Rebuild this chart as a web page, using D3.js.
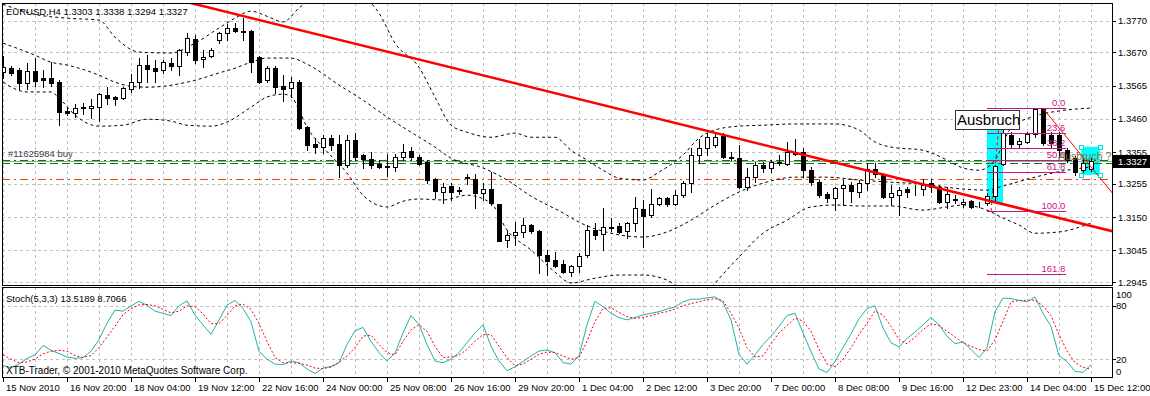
<!DOCTYPE html>
<html>
<head>
<meta charset="utf-8">
<script src="https://cdn.jsdelivr.net/npm/d3@7"></script>
<style>
body { margin: 0; background: #fff; }
svg text { font-family: "Liberation Sans", Arial, sans-serif; font-size: 9.5px; }
</style>
</head>
<body>
<svg id="chart" width="1150" height="396"></svg>
<script>
// ---- data ----
var symbol = "EURUSD,H4";
// [open, high, low, close] per H4 bar
var bars = [
[1.3608,1.3658,1.3589,1.3623],[1.3620,1.3627,1.3598,1.3605],[1.3614,1.3620,1.3554,1.3573],[1.3573,1.3636,1.3554,1.3611],
[1.3611,1.3652,1.3563,1.3579],[1.3589,1.3614,1.3560,1.3582],[1.3589,1.3639,1.3563,1.3573],[1.3576,1.3582,1.3440,1.3481],
[1.3485,1.3497,1.3472,1.3478],[1.3478,1.3507,1.3466,1.3494],[1.3494,1.3510,1.3475,1.3497],[1.3494,1.3522,1.3462,1.3500],
[1.3497,1.3541,1.3453,1.3538],[1.3535,1.3560,1.3507,1.3526],[1.3529,1.3532,1.3504,1.3522],[1.3526,1.3560,1.3522,1.3557],
[1.3554,1.3601,1.3545,1.3576],[1.3576,1.3652,1.3557,1.3630],[1.3630,1.3661,1.3576,1.3617],[1.3620,1.3646,1.3576,1.3611],
[1.3614,1.3646,1.3605,1.3639],[1.3636,1.3652,1.3614,1.3627],[1.3627,1.3680,1.3598,1.3677],[1.3671,1.3731,1.3661,1.3715],
[1.3712,1.3725,1.3636,1.3646],[1.3649,1.3677,1.3623,1.3655],[1.3658,1.3683,1.3655,1.3677],[1.3709,1.3734,1.3699,1.3731],
[1.3731,1.3759,1.3709,1.3747],[1.3747,1.3762,1.3734,1.3737],[1.3737,1.3778,1.3709,1.3734],[1.3737,1.3740,1.3608,1.3639],
[1.3655,1.3658,1.3573,1.3576],[1.3582,1.3627,1.3576,1.3620],[1.3620,1.3627,1.3541,1.3560],[1.3563,1.3598,1.3516,1.3554],
[1.3557,1.3592,1.3529,1.3576],[1.3576,1.3582,1.3428,1.3431],[1.3434,1.3437,1.3361,1.3377],[1.3380,1.3399,1.3352,1.3371],
[1.3371,1.3409,1.3352,1.3399],[1.3399,1.3409,1.3361,1.3377],[1.3380,1.3409,1.3276,1.3314],[1.3314,1.3409,1.3308,1.3393],
[1.3393,1.3415,1.3330,1.3339],[1.3346,1.3349,1.3305,1.3333],[1.3333,1.3355,1.3305,1.3314],[1.3317,1.3330,1.3305,1.3308],
[1.3311,1.3349,1.3279,1.3308],[1.3308,1.3349,1.3295,1.3339],[1.3339,1.3380,1.3330,1.3355],[1.3358,1.3371,1.3330,1.3339],
[1.3339,1.3346,1.3314,1.3317],[1.3324,1.3330,1.3257,1.3267],[1.3270,1.3273,1.3210,1.3232],[1.3229,1.3257,1.3194,1.3245],
[1.3248,1.3257,1.3204,1.3229],[1.3235,1.3245,1.3223,1.3232],[1.3273,1.3286,1.3254,1.3276],[1.3270,1.3286,1.3178,1.3226],
[1.3226,1.3257,1.3204,1.3238],[1.3238,1.3292,1.3188,1.3194],[1.3191,1.3191,1.3074,1.3074],[1.3077,1.3109,1.3055,1.3093],
[1.3093,1.3134,1.3062,1.3103],[1.3103,1.3147,1.3087,1.3125],[1.3125,1.3128,1.3099,1.3106],[1.3106,1.3109,1.2973,1.3030],
[1.3030,1.3046,1.2967,1.3011],[1.3014,1.3039,1.2992,1.2995],[1.3002,1.3014,1.2973,1.2976],[1.2976,1.2998,1.2964,1.2995],
[1.2995,1.3036,1.2976,1.3027],[1.3030,1.3125,1.3024,1.3109],[1.3109,1.3131,1.3080,1.3093],[1.3096,1.3178,1.3046,1.3118],
[1.3115,1.3147,1.3106,1.3118],[1.3122,1.3131,1.3099,1.3103],[1.3106,1.3134,1.3084,1.3131],[1.3131,1.3213,1.3106,1.3178],
[1.3175,1.3204,1.3055,1.3153],[1.3156,1.3238,1.3150,1.3191],[1.3191,1.3213,1.3188,1.3210],[1.3210,1.3213,1.3185,1.3191],
[1.3191,1.3235,1.3188,1.3219],[1.3219,1.3264,1.3213,1.3257],[1.3257,1.3368,1.3229,1.3346],[1.3346,1.3396,1.3320,1.3368],
[1.3368,1.3415,1.3346,1.3402],[1.3377,1.3415,1.3371,1.3402],[1.3406,1.3415,1.3336,1.3339],[1.3339,1.3355,1.3330,1.3336],
[1.3336,1.3377,1.3242,1.3245],[1.3245,1.3305,1.3235,1.3276],[1.3276,1.3324,1.3260,1.3314],[1.3314,1.3324,1.3292,1.3305],
[1.3305,1.3330,1.3292,1.3324],[1.3320,1.3346,1.3314,1.3324],[1.3317,1.3387,1.3314,1.3355],[1.3355,1.3396,1.3346,1.3349],
[1.3355,1.3368,1.3276,1.3298],[1.3298,1.3308,1.3251,1.3260],[1.3260,1.3267,1.3213,1.3219],[1.3223,1.3229,1.3197,1.3210],
[1.3210,1.3245,1.3172,1.3241],[1.3241,1.3267,1.3188,1.3251],[1.3251,1.3260,1.3197,1.3232],[1.3229,1.3267,1.3213,1.3257],
[1.3257,1.3320,1.3235,1.3301],[1.3301,1.3320,1.3276,1.3286],[1.3286,1.3289,1.3210,1.3213],[1.3213,1.3251,1.3188,1.3226],
[1.3219,1.3245,1.3156,1.3235],[1.3238,1.3245,1.3213,1.3229],[1.3235,1.3251,1.3219,1.3234],[1.3238,1.3270,1.3219,1.3251],
[1.3257,1.3270,1.3229,1.3245],[1.3245,1.3251,1.3194,1.3197],[1.3197,1.3245,1.3178,1.3223],[1.3207,1.3219,1.3194,1.3204],
[1.3191,1.3207,1.3182,1.3197],[1.3200,1.3204,1.3178,1.3182],[1.3191,1.3197,1.3182,1.3190],[1.3194,1.3226,1.3188,1.3216],
[1.3216,1.3314,1.3204,1.3311],[1.3317,1.3431,1.3314,1.3415],[1.3409,1.3418,1.3368,1.3380],[1.3380,1.3399,1.3371,1.3390],
[1.3387,1.3418,1.3384,1.3412],[1.3412,1.3494,1.3402,1.3491],[1.3491,1.3494,1.3377,1.3384],[1.3409,1.3418,1.3368,1.3384],
[1.3409,1.3418,1.3339,1.3361],[1.3361,1.3368,1.3324,1.3330],[1.3336,1.3342,1.3283,1.3292],[1.3298,1.3336,1.3283,1.3320],
[1.3303,1.3338,1.3294,1.3327]
];

// Bollinger bands, sampled [bar, price]
var bandUpper = [[0,1.3822],[4,1.3790],[8,1.3778],[12,1.3772],[14,1.3718],[17,1.3671],[21,1.3668],[24,1.3699],[27,1.3747],
[29,1.3778],[31,1.3800],[33,1.3784],[35,1.3766],[37,1.3810],[39,1.3851],[42,1.3898],[45,1.3851],[47,1.3794],[49,1.3699],
[52,1.3623],[54,1.3529],[56,1.3440],[58,1.3418],[61,1.3402],[64,1.3415],[66,1.3402],[69,1.3402],[71,1.3361],[73,1.3330],
[75,1.3298],[77,1.3273],[80,1.3267],[82,1.3292],[85,1.3346],[87,1.3399],[89,1.3425],[92,1.3437],[95,1.3440],[99,1.3444],
[104,1.3444],[107,1.3425],[109,1.3387],[111,1.3371],[115,1.3361],[118,1.3330],[120,1.3305],[122,1.3298],[124,1.3330],
[126,1.3431],[129,1.3469],[132,1.3485],[136,1.3494]];
var bandMiddle = [[0,1.3699],[4,1.3661],[6,1.3639],[8,1.3630],[12,1.3598],[14,1.3576],[16,1.3563],[18,1.3560],[20,1.3563],
[24,1.3582],[27,1.3605],[29,1.3620],[31,1.3639],[33,1.3652],[36,1.3652],[38,1.3633],[42,1.3567],[45,1.3519],[48,1.3466],
[51,1.3418],[54,1.3371],[56,1.3336],[60,1.3305],[63,1.3267],[66,1.3216],[70,1.3163],[72,1.3134],[76,1.3099],[80,1.3087],
[83,1.3103],[86,1.3140],[89,1.3188],[92,1.3229],[95,1.3257],[99,1.3276],[103,1.3276],[107,1.3267],[111,1.3260],[115,1.3254],
[119,1.3241],[123,1.3235],[125,1.3248],[129,1.3276],[133,1.3298],[136,1.3308]];
var bandLower = [[0,1.3576],[3,1.3545],[6,1.3545],[7,1.3526],[9,1.3472],[12,1.3437],[15,1.3440],[18,1.3459],[21,1.3453],
[23,1.3440],[26,1.3437],[28,1.3450],[31,1.3497],[33,1.3529],[35,1.3538],[36,1.3532],[37,1.3488],[38,1.3434],[40,1.3371],
[43,1.3289],[45,1.3219],[48,1.3182],[50,1.3200],[52,1.3207],[55,1.3204],[58,1.3219],[61,1.3194],[63,1.3109],[66,1.3046],
[69,1.2976],[71,1.2942],[74,1.2957],[77,1.2967],[80,1.2967],[83,1.2951],[85,1.2919],[87,1.2888],[89,1.2942],[92,1.3024],
[95,1.3099],[98,1.3140],[101,1.3182],[104,1.3188],[107,1.3185],[111,1.3185],[115,1.3172],[118,1.3182],[120,1.3188],
[123,1.3172],[125,1.3147],[127,1.3125],[129,1.3099],[132,1.3103],[136,1.3131]];

// Stochastic (5,3,3)
var stochK = [13,10,14.5,21,24.7,35.5,30,26.5,22.5,21,21.7,29,42,60.5,75.2,74,80,85,80.7,74,71.5,69,80,85.5,69.6,58.5,48,64,
80.7,86,77,62,29,20,14.5,13.8,18,16,
9,4,10,12,16,36.5,52,55.7,40,27.4,18,27,49.5,69,59,36.5,18,16,20,27.4,38.5,49.5,58.7,34.5,18,7,11.5,17.4,23.7,29.2,30.3,27.4,
16.3,14.5,23.7,58.7,85.2,78.9,71.6,66.8,64.2,66.8,69.7,71.6,73.4,76.3,78.9,84.4,87.4,87.4,89,
90,83.7,64.2,25.5,14.5,24.8,36.5,45.8,56.9,69,71.6,49.5,28.5,9,5,17.4,33,48.6,65.4,77,80,55,38.5,33.7,43.3,50.5,58.7,66.8,
58.7,45.8,37.3,39.5,31,21.8,33,73.4,88.8,88,86.3,84.4,90,71.6,56.9,23.7,17.4,6.3,5.2,13.5189];
var stochD = [24.8,20,16,17,20,26,29,30,29,24,22,24,33,45,57,70,77,81,81.5,80,76,72,74,80,79,71,60,60,69,80,82,76,60,40,22,16,16,15.4,
13.5,10,9.5,11,16.3,23.7,33,46,47,36.5,27.4,24.8,40,53,58.7,51.3,34.6,21.8,22.5,24.4,31,40.2,47.6,47.6,34.6,21.8,12.6,14.5,20,
25.5,28.1,27.4,23.7,20,21.8,40.2,62.3,77,77.8,72.6,67.8,66,66.7,69,71.6,73.4,76.3,80,82.6,84.4,87,
88,85.9,71.6,55,33,22.5,23.7,37.3,49.5,57.9,66,63,51.3,31,14.5,11.5,20,33,47.6,60.5,74,69.7,56.9,42.1,37.3,44.7,53.2,59.8,
57.9,51.3,45,38.5,34.5,30.7,29.2,42,62.3,84.4,85.9,86.3,86.3,80,69,47.6,29.2,16.3,10.8,8.7066];

var priceTicks = [1.3770, 1.3670, 1.3565, 1.3460, 1.3355, 1.3255, 1.3150, 1.3045, 1.2945];
var stochTicks = [100, 80, 20, 0];
var stochLevels = [80, 20];
var timeLabels = ["15 Nov 2010", "16 Nov 20:00", "18 Nov 04:00", "19 Nov 12:00", "22 Nov 16:00", "24 Nov 00:00",
  "25 Nov 08:00", "26 Nov 16:00", "29 Nov 20:00", "1 Dec 04:00", "2 Dec 12:00", "3 Dec 20:00", "7 Dec 00:00",
  "8 Dec 08:00", "9 Dec 16:00", "12 Dec 23:00", "14 Dec 04:00", "15 Dec 12:00"];
var timeTickBars = [0, 8, 16, 24, 32, 40, 48, 56, 64, 72, 80, 88, 96, 104, 112, 120, 128, 136];

var fibLevels = [0, 23.6, 38.2, 50, 61.8, 100, 161.8];
var fibPrices = [1.3169, 1.3493];      // 100 level, 0 level
var fibBars = [123, 132.9];
var fibAnchor = [[123.5, 1.3169], [124.7, 1.3493]];
var trendMain = [[30, 1.3785], [124, 1.3197]];
var trendShort = [[130, 1.3493], [135, 1.3339]];
var orderPrices = [1.3330, 1.3320];
var stopPrice = 1.3269;
var bidPrice = 1.3327;
var boxBreakout = [[123, 1.3428], [125, 1.3194]];
var boxQuestion = [[134.8, 1.3372], [137.1, 1.3283]];
var orderLabel = "#11625984 buy";

// ---- layout ----
var svg = d3.select("#chart");
var W = 1150, H = 396;
var left = 2, right = 1112, mainTop = 3, mainBottom = 285, subTop = 287, subBottom = 377;

var x = d3.scaleLinear().domain([0, 1]).range([3, 11]);
var y = d3.scaleLinear().domain([1.2945, 1.3770]).range([282, 20.7]);
var ys = d3.scaleLinear().domain([0, 100]).range([377, 288]);
var px = function(v) { return Math.round(v) + 0.5; };

svg.append("rect").attr("width", W).attr("height", H).attr("fill", "#fff");

var defs = svg.append("defs");
defs.append("clipPath").attr("id", "clipMain").append("rect")
  .attr("x", left + 1).attr("y", mainTop + 1).attr("width", right - left - 1).attr("height", mainBottom - mainTop - 1);
defs.append("clipPath").attr("id", "clipSub").append("rect")
  .attr("x", left + 1).attr("y", subTop + 1).attr("width", right - left - 1).attr("height", subBottom - subTop - 1);

var main = svg.append("g").attr("clip-path", "url(#clipMain)");
var sub = svg.append("g").attr("clip-path", "url(#clipSub)");

// grid
var gridBars = d3.range(0, 140, 4);
main.selectAll(".vg").data(gridBars).join("line")
  .attr("x1", d => px(x(d))).attr("x2", d => px(x(d)))
  .attr("y1", mainTop).attr("y2", mainBottom)
  .attr("stroke", "#c0c0c0").attr("stroke-dasharray", "3,3");
main.selectAll(".hg").data(priceTicks).join("line")
  .attr("x1", left).attr("x2", right)
  .attr("y1", d => px(y(d))).attr("y2", d => px(y(d)))
  .attr("stroke", "#c0c0c0").attr("stroke-dasharray", "3,3");
sub.selectAll(".vg").data(gridBars).join("line")
  .attr("x1", d => px(x(d))).attr("x2", d => px(x(d)))
  .attr("y1", subTop).attr("y2", subBottom)
  .attr("stroke", "#c0c0c0").attr("stroke-dasharray", "3,3");
sub.selectAll(".hg").data(stochLevels).join("line")
  .attr("x1", left).attr("x2", right)
  .attr("y1", d => px(ys(d))).attr("y2", d => px(ys(d)))
  .attr("stroke", "#c0c0c0").attr("stroke-dasharray", "3,3");

// rectangles (background objects)
[boxBreakout, boxQuestion].forEach(function(b) {
  main.append("rect")
    .attr("x", x(b[0][0])).attr("y", y(b[0][1]))
    .attr("width", x(b[1][0]) - x(b[0][0])).attr("height", y(b[1][1]) - y(b[0][1]))
    .attr("fill", "#00ffff");
});

// order / stop / bid lines
main.append("line").attr("x1", left).attr("x2", right)
  .attr("y1", px(y(orderPrices[0]))).attr("y2", px(y(orderPrices[0])))
  .attr("stroke", "#008000").attr("stroke-dasharray", "8,4,2,4");
main.append("line").attr("x1", left).attr("x2", right)
  .attr("y1", px(y(bidPrice))).attr("y2", px(y(bidPrice)))
  .attr("stroke", "#a0a0a0");
main.append("line").attr("x1", left).attr("x2", right)
  .attr("y1", px(y(orderPrices[1]))).attr("y2", px(y(orderPrices[1])))
  .attr("stroke", "#008000").attr("stroke-dasharray", "8,4");
main.append("line").attr("x1", left).attr("x2", right)
  .attr("y1", px(y(stopPrice))).attr("y2", px(y(stopPrice)))
  .attr("stroke", "#ff4000").attr("stroke-dasharray", "8,4,2,4");

// bollinger bands
var bandLine = d3.line().x(d => x(d[0])).y(d => y(d[1])).curve(d3.curveMonotoneX);
[bandUpper, bandMiddle, bandLower].forEach(function(b) {
  main.append("path").attr("d", bandLine(b))
    .attr("fill", "none").attr("stroke", "#000").attr("stroke-width", 1).attr("stroke-dasharray", "3,3");
});

// fib anchor line (behind candles)
var seg = d3.line().x(d => x(d[0])).y(d => y(d[1]));
main.append("path").attr("d", seg(fibAnchor))
  .attr("fill", "none").attr("stroke", "#ff0000").attr("stroke-dasharray", "3,3");

// candles
var candle = main.selectAll(".candle").data(bars).join("g");
candle.append("line")
  .attr("x1", (d, i) => px(x(i))).attr("x2", (d, i) => px(x(i)))
  .attr("y1", d => Math.round(y(d[1]))).attr("y2", d => Math.round(y(d[2])) + 1)
  .attr("stroke", "#000");
candle.append("rect")
  .attr("x", (d, i) => Math.round(x(i)) - 2 + 0.5)
  .attr("y", d => Math.round(y(Math.max(d[0], d[3]))) + 0.5)
  .attr("width", 4)
  .attr("height", d => Math.max(0, Math.round(y(Math.min(d[0], d[3]))) - Math.round(y(Math.max(d[0], d[3])))))
  .attr("fill", d => d[3] >= d[0] ? "#fff" : "#000")
  .attr("stroke", "#000");

// trend lines (rays to the right)
function ray(t, xEnd) {
  var slope = (t[1][1] - t[0][1]) / (t[1][0] - t[0][0]);
  var x0 = -10, x1 = xEnd;
  return [[x0, t[0][1] + slope * (x0 - t[0][0])], [x1, t[0][1] + slope * (x1 - t[0][0])]];
}
main.append("path").attr("d", seg(ray(trendMain, 140)))
  .attr("fill", "none").attr("stroke", "#ff0000").attr("stroke-width", 2.5);
var rs = ray(trendShort, 140); rs[0] = trendShort[0];
main.append("path").attr("d", seg(rs))
  .attr("fill", "none").attr("stroke", "#ff0000").attr("stroke-width", 1);

// fibonacci
var fibCol = "#c71585";
var fibY = d => y(fibPrices[1] - (fibPrices[1] - fibPrices[0]) * d / 100);
main.selectAll(".fib").data(fibLevels).join("line")
  .attr("x1", x(fibBars[0])).attr("x2", x(fibBars[1]))
  .attr("y1", d => px(fibY(d))).attr("y2", d => px(fibY(d)))
  .attr("stroke", fibCol);
main.selectAll(".fibt").data(fibLevels).join("text")
  .attr("x", x(fibBars[1]) - 1).attr("y", d => Math.round(fibY(d)) - 2)
  .attr("text-anchor", "end").attr("fill", fibCol).text(d => d.toFixed(1));

// handles of the selected box
var hb = [[boxQuestion[0][0], boxQuestion[0][1]], [boxQuestion[1][0], boxQuestion[0][1]],
          [boxQuestion[0][0], boxQuestion[1][1]], [boxQuestion[1][0], boxQuestion[1][1]]];
main.selectAll(".hnd").data(hb).join("rect")
  .attr("x", d => Math.round(x(d[0])) - 2 + 0.5).attr("y", d => Math.round(y(d[1])) - 2 + 0.5)
  .attr("width", 4).attr("height", 4).attr("fill", "#fff").attr("stroke", "#00e0e0");

// labels on chart
main.append("text").attr("x", x(131.9)).attr("y", y(1.3331))
  .attr("fill", "#8a7040").style("font-size", "10.5px").text("Ausbruch ?");
var ab = main.append("g");
ab.append("rect").attr("x", px(x(119))).attr("y", px(y(1.3488)))
  .attr("width", 64).attr("height", 19).attr("fill", "#fff").attr("stroke", "#333");
ab.append("text").attr("x", x(119) + 2).attr("y", y(1.3488) + 15)
  .style("font-size", "15px").attr("fill", "#000").text("Ausbruch");
main.append("text").attr("x", 8).attr("y", y(orderPrices[0]) - 3)
  .attr("fill", "#404050").text(orderLabel);
main.append("text").attr("x", 6).attr("y", 15).attr("fill", "#000")
  .text(symbol + "  " + bars[bars.length - 1].map(v => v.toFixed(4)).join(" "));

// stochastic
var kLine = d3.line().x((d, i) => x(i)).y(d => ys(d));
sub.append("path").attr("d", kLine(stochK)).attr("fill", "none").attr("stroke", "#20b2aa");
sub.append("path").attr("d", kLine(stochD)).attr("fill", "none").attr("stroke", "#ff0000").attr("stroke-dasharray", "2,2");
sub.append("text").attr("x", 6).attr("y", 302).attr("fill", "#000")
  .text("Stoch(5,3,3) " + stochK[stochK.length - 1].toFixed(4) + " " + stochD[stochD.length - 1].toFixed(4));
sub.append("text").attr("x", 6).attr("y", 374).attr("fill", "#000").style("font-size", "10px")
  .text("XTB-Trader, \u00a9 2001-2010 MetaQuotes Software Corp.");

// frames
svg.append("rect").attr("x", left + 0.5).attr("y", mainTop + 0.5).attr("width", right - left).attr("height", mainBottom - mainTop)
  .attr("fill", "none").attr("stroke", "#000");
svg.append("rect").attr("x", left + 0.5).attr("y", subTop + 0.5).attr("width", right - left).attr("height", subBottom - subTop)
  .attr("fill", "none").attr("stroke", "#000");

// price axis
var pa = svg.append("g");
pa.selectAll("line").data(priceTicks).join("line")
  .attr("x1", right).attr("x2", right + 4).attr("y1", d => px(y(d))).attr("y2", d => px(y(d))).attr("stroke", "#000");
pa.selectAll("text").data(priceTicks).join("text")
  .attr("x", right + 6).attr("y", d => y(d) + 3.5).attr("fill", "#000").text(d => d.toFixed(4));
pa.append("rect").attr("x", right + 1).attr("y", Math.round(y(bidPrice)) - 6).attr("width", 38).attr("height", 13).attr("fill", "#000");
pa.append("text").attr("x", right + 6).attr("y", y(bidPrice) + 3.5).attr("fill", "#fff").text(bidPrice.toFixed(4));

// stoch axis
var sa = svg.append("g");
sa.selectAll("line").data(stochLevels).join("line")
  .attr("x1", right).attr("x2", right + 4).attr("y1", d => px(ys(d))).attr("y2", d => px(ys(d))).attr("stroke", "#000");
sa.selectAll("text").data(stochTicks).join("text")
  .attr("x", right + 4).attr("y", d => Math.min(Math.max(ys(d), 294), 371) + 3.5).attr("fill", "#000").text(d => d);

// time axis
var ta = svg.append("g");
ta.selectAll("line").data(timeTickBars).join("line")
  .attr("x1", d => px(x(d))).attr("x2", d => px(x(d))).attr("y1", subBottom).attr("y2", subBottom + 5).attr("stroke", "#000");
ta.selectAll("text").data(timeLabels).join("text")
  .attr("x", (d, i) => x(timeTickBars[i]) + 3).attr("y", 391).attr("fill", "#000").text(d => d);
</script>
</body>
</html>
